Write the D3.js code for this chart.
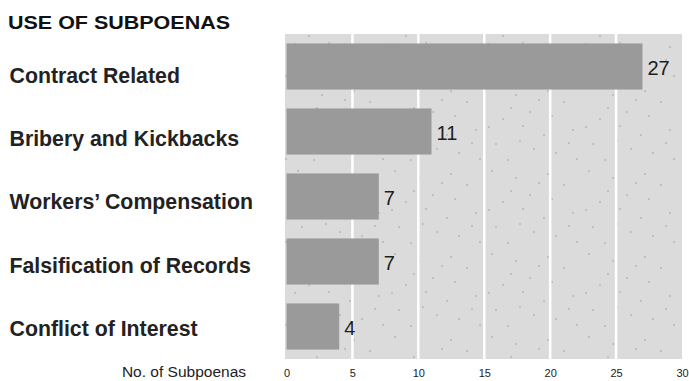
<!DOCTYPE html>
<html>
<head>
<meta charset="utf-8">
<script src="https://cdn.jsdelivr.net/npm/d3@7"></script>
<style>
  html, body { margin: 0; padding: 0; background: #fff; }
  svg { display: block; font-family: "Liberation Sans", Arial, Helvetica, sans-serif; }
</style>
</head>
<body>
<svg id="chart" width="689" height="381"></svg>
<script>
// Subpoena counts by type of case
const categories = [
  "Contract Related",
  "Bribery and Kickbacks",
  "Workers\u2019 Compensation",
  "Falsification of Records",
  "Conflict of Interest"
];
const subpoenas = [27, 11, 7, 7, 4];
const tickValues = [0, 5, 10, 15, 20, 25, 30];

const title = "USE OF SUBPOENAS";
const axisTitle = "No. of Subpoenas";

const data = categories.map((c, i) => ({ category: c, value: subpoenas[i] }));

const svg = d3.select("#chart");

const panel = { left: 285, right: 682, top: 34, bottom: 359 };

const x = d3.scaleLinear().domain([0, 30]).range([286.5, 682]);
const y = d3.scaleBand()
  .domain(categories)
  .range([panel.top, panel.bottom])
  .paddingInner(0.29)
  .paddingOuter(0.145);
// category labels sit on their own evenly spaced baselines
const labelY = d3.scalePoint().domain(categories).range([82.5, 336]);

// stippled background texture (fixed speckle layout in one tile)
const defs = svg.append("defs");
const pat = defs.append("pattern")
  .attr("id", "stipple")
  .attr("patternUnits", "userSpaceOnUse")
  .attr("width", 97).attr("height", 83);
pat.append("rect").attr("width", 97).attr("height", 83).attr("fill", "#dbdbdb");
const specks = [
  [7, 5], [31, 12], [45, 29], [18, 36], [38, 43], [11, 61], [26, 25],
  [63, 8], [79, 19], [88, 47], [59, 52], [71, 70], [92, 76], [49, 66],
  [23, 77], [4, 44], [67, 33], [84, 60], [35, 58], [54, 17]
];
pat.selectAll("circle").data(specks).join("circle")
  .attr("cx", d => d[0]).attr("cy", d => d[1])
  .attr("r", 0.75).attr("fill", "#5e5e5e").attr("opacity", 0.55);

svg.append("rect")
  .attr("x", panel.left).attr("y", panel.top)
  .attr("width", panel.right - panel.left)
  .attr("height", panel.bottom - panel.top)
  .attr("fill", "url(#stipple)");

// white vertical grid lines
svg.append("g")
  .selectAll("line")
  .data(tickValues.filter(t => t > 0 && t < 30))
  .join("line")
  .attr("x1", d => x(d)).attr("x2", d => x(d))
  .attr("y1", panel.top).attr("y2", panel.bottom)
  .attr("stroke", "#ffffff").attr("stroke-width", 2.5);

// bars
svg.append("g")
  .selectAll("rect")
  .data(data)
  .join("rect")
  .attr("x", x(0))
  .attr("y", d => y(d.category))
  .attr("width", d => x(d.value) - x(0))
  .attr("height", y.bandwidth())
  .attr("fill", "#9a9a9a");

// value labels
svg.append("g")
  .selectAll("text")
  .data(data)
  .join("text")
  .attr("x", d => x(d.value) + 5)
  .attr("y", d => y(d.category) + y.bandwidth() / 2 + 8)
  .attr("font-size", 20)
  .attr("fill", "#1e1e1e")
  .text(d => d.value);

// category labels
svg.append("g")
  .selectAll("text")
  .data(data)
  .join("text")
  .attr("x", 9.5)
  .attr("y", d => labelY(d.category))
  .attr("font-size", 21.3)
  .attr("font-weight", "bold")
  .attr("fill", "#222")
  .text(d => d.category);

// title
svg.append("text")
  .attr("x", 8).attr("y", 28.5)
  .attr("font-size", 19)
  .attr("font-weight", "bold")
  .attr("fill", "#111")
  .attr("textLength", 222)
  .attr("lengthAdjust", "spacingAndGlyphs")
  .text(title);

// x axis tick labels
const axis = d3.axisBottom(x).tickValues(tickValues).tickSize(0).tickPadding(0);
const gAxis = svg.append("g")
  .attr("transform", `translate(0, ${369})`)
  .call(axis);
gAxis.select(".domain").remove();
gAxis.selectAll("text")
  .attr("font-size", 11)
  .attr("font-family", "Liberation Sans, Arial, sans-serif")
  .attr("fill", "#222");

// axis title
svg.append("text")
  .attr("x", 246).attr("y", 377)
  .attr("text-anchor", "end")
  .attr("font-size", 15.5)
  .attr("fill", "#222")
  .text(axisTitle);
</script>
</body>
</html>
